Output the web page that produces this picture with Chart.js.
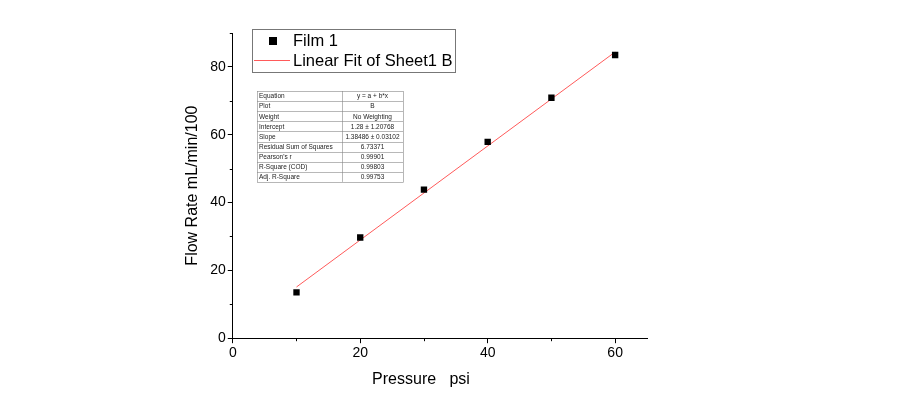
<!DOCTYPE html>
<html>
<head>
<meta charset="utf-8">
<script src="https://cdn.jsdelivr.net/npm/chart.js@4"></script>
<style>
  html, body { margin: 0; padding: 0; background: #fff; }
  #wrap { width: 901px; height: 395px; }
</style>
</head>
<body>
<div id="wrap"><canvas id="flowChart" width="901" height="395"></canvas></div>
<script>
// data
const pressure = [10, 20, 30, 40, 50, 60];
const flowRate = [13.5, 29.7, 43.8, 57.9, 70.9, 83.5];
const fitX = [10, 60];
const fitY = [15.1, 84.4];
const xTicks = [0, 20, 40, 60];
const yTicks = [0, 20, 40, 60, 80];
const legendLabels = ['Film 1', 'Linear Fit of Sheet1 B'];
const xTitle = 'Pressure   psi';
const tableRows = [
    ['Equation', 'y = a + b*x'],
    ['Plot', 'B'],
    ['Weight', 'No Weighting'],
    ['Intercept', '1.28 \u00b1 1.20768'],
    ['Slope', '1.38486 \u00b1 0.03102'],
    ['Residual Sum of Squares', '6.73371'],
    ["Pearson's r", '0.99901'],
    ['R-Square (COD)', '0.99803'],
    ['Adj. R-Square', '0.99753'],
];

const FONT = 'Liberation Sans, Arial, sans-serif';

// short minor ticks, x title, legend box, stats table
const extras = {
    id: 'extras',
    afterDraw(chart) {
        const ctx = chart.ctx;
        const xs = chart.scales.x;
        const ys = chart.scales.y;
        ctx.save();
        ctx.strokeStyle = '#000';
        ctx.lineWidth = 1;
        // minor ticks
        [10, 30, 50].forEach(v => {
            const px = Math.round(xs.getPixelForValue(v)) + 0.5;
            ctx.beginPath();
            ctx.moveTo(px, ys.bottom);
            ctx.lineTo(px, ys.bottom + 3);
            ctx.stroke();
        });
        [10, 30, 50, 70, 90].forEach(v => {
            const py = Math.round(ys.getPixelForValue(v)) + 0.5;
            ctx.beginPath();
            ctx.moveTo(xs.left, py);
            ctx.lineTo(xs.left - 3, py);
            ctx.stroke();
        });

        // x axis title, sits a bit left of centre
        ctx.fillStyle = '#000';
        ctx.font = '16px ' + FONT;
        ctx.textAlign = 'center';
        ctx.textBaseline = 'middle';
        ctx.fillText(xTitle, 421, 380);

        // legend box
        ctx.strokeStyle = '#777';
        ctx.strokeRect(252.5, 29.5, 203, 43);
        ctx.fillRect(269, 37, 8, 8);
        ctx.strokeStyle = 'rgba(255,90,90,1)';
        ctx.beginPath();
        ctx.moveTo(254, 60.5);
        ctx.lineTo(290, 60.5);
        ctx.stroke();
        ctx.font = '16.5px ' + FONT;
        ctx.textAlign = 'left';
        ctx.fillText(legendLabels[0], 293, 41);
        ctx.fillText(legendLabels[1], 293, 61);

        // table
        const tx = 257, ty = 91, c1 = 85, c2 = 61, rh = 10.1;
        ctx.strokeStyle = '#888';
        ctx.lineWidth = 0.6;
        ctx.strokeRect(tx + 0.5, ty + 0.5, c1 + c2, rh * tableRows.length);
        ctx.beginPath();
        ctx.moveTo(tx + c1 + 0.5, ty);
        ctx.lineTo(tx + c1 + 0.5, ty + rh * tableRows.length);
        for (let i = 1; i < tableRows.length; i++) {
            const py = Math.round(ty + i * rh) + 0.5;
            ctx.moveTo(tx, py);
            ctx.lineTo(tx + c1 + c2, py);
        }
        ctx.stroke();
        ctx.font = '6.5px ' + FONT;
        ctx.fillStyle = '#222';
        tableRows.forEach((r, i) => {
            const cy = ty + i * rh + rh / 2 + 0.5;
            ctx.textAlign = 'left';
            ctx.fillText(r[0], tx + 2, cy);
            ctx.textAlign = 'center';
            ctx.fillText(r[1], tx + c1 + c2 / 2, cy);
        });
        ctx.restore();
    }
};

const ctx = document.getElementById('flowChart').getContext('2d');
new Chart(ctx, {
    type: 'scatter',
    data: {
        datasets: [
            {
                label: legendLabels[0],
                data: pressure.map((p, i) => ({ x: p, y: flowRate[i] })),
                pointStyle: 'rect',
                pointRadius: 4.5,
                backgroundColor: '#000',
                borderColor: '#000',
                borderWidth: 0,
                order: 1,
            },
            {
                label: legendLabels[1],
                type: 'line',
                data: fitX.map((p, i) => ({ x: p, y: fitY[i] })),
                borderColor: 'rgba(255,90,90,1)',
                borderWidth: 1,
                pointRadius: 0,
                fill: false,
                order: 2,
            },
        ],
    },
    options: {
        responsive: false,
        animation: false,
        // bottom padding keeps room where the x title is drawn by the plugin
        layout: { padding: { left: 183, right: 254, top: 33, bottom: 31 } },
        plugins: {
            legend: { display: false },
            tooltip: { enabled: false },
        },
        scales: {
            x: {
                type: 'linear',
                min: 0,
                max: 65,
                afterBuildTicks: axis => { axis.ticks = xTicks.map(v => ({ value: v })); },
                grid: { drawOnChartArea: false, color: '#000', tickLength: 5 },
                border: { color: '#000', width: 1 },
                ticks: { color: '#000', font: { family: FONT, size: 14 }, padding: 2, maxRotation: 0 },
            },
            y: {
                type: 'linear',
                min: 0,
                max: 90,
                afterBuildTicks: axis => { axis.ticks = yTicks.map(v => ({ value: v })); },
                grid: { drawOnChartArea: false, color: '#000', tickLength: 5 },
                border: { color: '#000', width: 1 },
                ticks: { color: '#000', font: { family: FONT, size: 14 }, padding: 2 },
                title: {
                    display: true,
                    text: 'Flow Rate mL/min/100',
                    color: '#000',
                    font: { family: FONT, size: 16 },
                    padding: { top: 0, bottom: 6 },
                },
            },
        },
    },
    plugins: [extras],
});
</script>
</body>
</html>
